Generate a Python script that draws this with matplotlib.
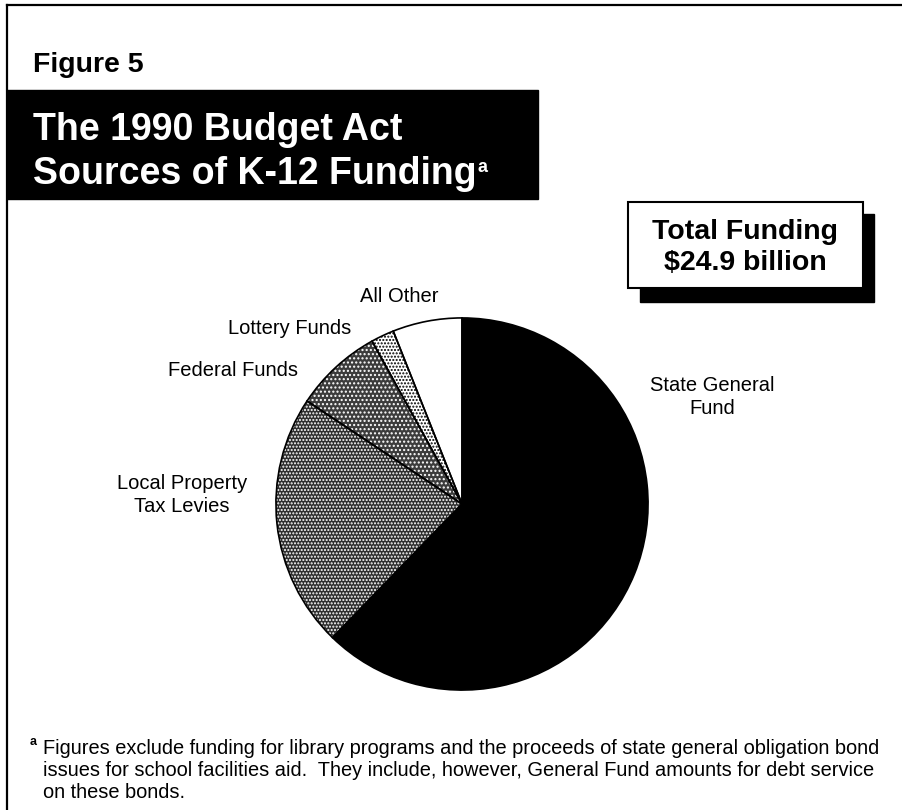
import matplotlib
matplotlib.use("Agg")
import matplotlib.pyplot as plt
from matplotlib.patches import Rectangle

plt.rcParams['font.family'] = ['Liberation Sans', 'DejaVu Sans']

# K-12 funding sources, billions of dollars
sources = ["State General\nFund", "Local Property\nTax Levies", "Federal Funds",
           "Lottery Funds", "All Other"]
amounts = [15.5, 5.5, 1.9, 0.5, 1.5]
total = 24.9

title_lines = ["The 1990 Budget Act", "Sources of K-12 Funding"]
footnote = ("Figures exclude funding for library programs and the proceeds of state general obligation bond\n"
            "issues for school facilities aid.  They include, however, General Fund amounts for debt service\n"
            "on these bonds.")

fills = ['black', '#2e2e2e', '#3c3c3c', 'white', 'white']
white_dots = ['', '.....', '....', '', '']
black_dots = ['', '', '', '.....', '']
label_xy = [(712, 397), (182, 495), (233, 370), (290, 329), (399, 296)]

fig = plt.figure(figsize=(9.03, 8.1), dpi=100)
bg = fig.add_axes([0, 0, 1, 1])
bg.set_xlim(0, 903)
bg.set_ylim(810, 0)
bg.axis('off')
bg.set_zorder(2)

# page frame (top and left rules)
bg.plot([7, 903], [5, 5], color='black', lw=1.6, clip_on=False)
bg.plot([7, 7], [5, 810], color='black', lw=1.6, clip_on=False)

bg.text(33, 65, "Figure 5", fontsize=20.5, fontweight='bold', va='center', ha='left')

# black title banner
bg.add_patch(Rectangle((7, 90), 531, 109, color='black'))
bg.text(33, 130, title_lines[0], color='white', fontsize=27, fontweight='bold',
        va='center', ha='left')
t2 = bg.text(33, 174, title_lines[1], color='white', fontsize=27, fontweight='bold',
             va='center', ha='left')
bg.annotate("a", xy=(1, 0.68), xycoords=t2, xytext=(0.5, 0), textcoords='offset points',
            color='white', fontsize=13, fontweight='bold', va='center', ha='left')

# total funding box with drop shadow
bg.add_patch(Rectangle((640, 214), 234, 88, color='black'))
bg.add_patch(Rectangle((628, 202), 235, 86, facecolor='white', edgecolor='black', lw=1.5))
bg.text(745, 232, "Total Funding", fontsize=20.5, fontweight='bold', ha='center', va='center')
bg.text(745, 263, f"${total} billion", fontsize=20.5, fontweight='bold', ha='center', va='center')

# pie
pax = fig.add_axes([275 / 903, (810 - 691) / 810, 374 / 903, 374 / 810])
plt.rcParams['hatch.color'] = 'white'
plt.rcParams['hatch.linewidth'] = 1.0
wedges, _ = pax.pie(amounts, colors=fills, startangle=90, counterclock=False)
for w, h in zip(wedges, white_dots):
    if h:
        w.set_hatch(h)
# outlines and black halftone
outline, _ = pax.pie(amounts, colors=['none'] * len(amounts), startangle=90, counterclock=False,
                     wedgeprops=dict(edgecolor='black', linewidth=1.2))
for w, h in zip(outline, black_dots):
    if h:
        w.set_hatch(h)
pax.set_aspect('auto')
pax.set_xlim(-1.005, 1.005)
pax.set_ylim(-1.005, 1.005)

for name, (x, y) in zip(sources, label_xy):
    bg.text(x, y, name, fontsize=14.5, ha='center', va='center', linespacing=1.25)

# footnote
bg.text(30, 742, "a", fontsize=9, fontweight='bold', ha='left', va='center')
bg.text(43, 771, footnote, fontsize=14.4, ha='left', va='center', linespacing=1.2)

fig.savefig("out.png", dpi=100)
